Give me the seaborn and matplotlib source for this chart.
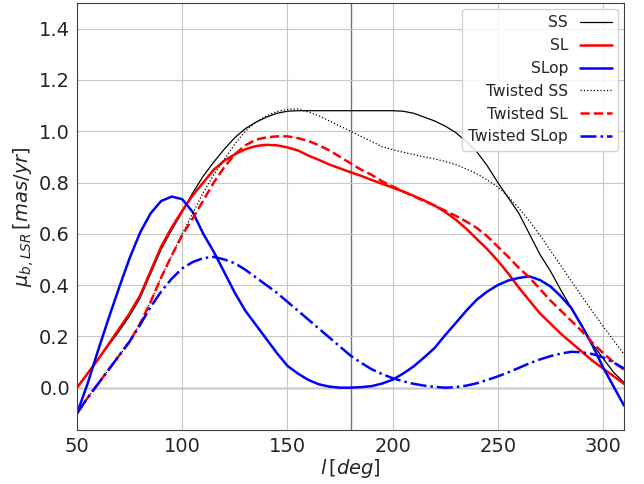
import numpy as np
import pandas as pd
import matplotlib
matplotlib.use("Agg")
import matplotlib.pyplot as plt
import seaborn as sns

# Galactic longitude grid (deg)
l_deg = list(range(50, 315, 5))

ss = [0.0, 0.055, 0.11, 0.165, 0.22, 0.28, 0.35, 0.445, 0.54, 0.615,
      0.685, 0.76, 0.825, 0.88, 0.93, 0.975, 1.01, 1.035, 1.055, 1.07,
      1.078, 1.08, 1.08, 1.08, 1.08, 1.08, 1.08, 1.08, 1.08, 1.08,
      1.08, 1.078, 1.07, 1.055, 1.04, 1.02, 0.995, 0.96, 0.92, 0.865,
      0.80, 0.74, 0.68, 0.60, 0.52, 0.455, 0.38, 0.31, 0.24, 0.17,
      0.115, 0.06, 0.02]

sl = [0.0, 0.055, 0.11, 0.17, 0.23, 0.29, 0.36, 0.455, 0.55, 0.625,
      0.69, 0.75, 0.80, 0.85, 0.885, 0.91, 0.93, 0.942, 0.947, 0.945,
      0.937, 0.925, 0.905, 0.888, 0.87, 0.855, 0.84, 0.826, 0.81, 0.795,
      0.78, 0.765, 0.748, 0.73, 0.71, 0.685, 0.655, 0.62, 0.58, 0.54,
      0.495, 0.445, 0.39, 0.34, 0.29, 0.25, 0.21, 0.175, 0.14, 0.105,
      0.075, 0.045, 0.015]

slop = [-0.1, 0.015, 0.145, 0.27, 0.39, 0.505, 0.605, 0.68, 0.728, 0.745,
        0.735, 0.685, 0.60, 0.53, 0.45, 0.37, 0.30, 0.245, 0.19, 0.135,
        0.085, 0.055, 0.03, 0.013, 0.004, 0.0, 0.0, 0.002, 0.006, 0.016,
        0.031, 0.055, 0.083, 0.118, 0.155, 0.205, 0.252, 0.30, 0.343, 0.375,
        0.40, 0.418, 0.428, 0.434, 0.42, 0.395, 0.356, 0.31, 0.24, 0.165,
        0.08, 0.005, -0.07]

tw_ss = [-0.1, -0.04, 0.015, 0.07, 0.125, 0.18, 0.25, 0.335, 0.43, 0.515,
         0.60, 0.68, 0.76, 0.83, 0.89, 0.95, 1.0, 1.035, 1.06, 1.077,
         1.085, 1.087, 1.075, 1.06, 1.04, 1.02, 1.0, 0.98, 0.96, 0.94,
         0.928, 0.918, 0.909, 0.90, 0.892, 0.882, 0.87, 0.853, 0.834, 0.81,
         0.783, 0.745, 0.70, 0.65, 0.595, 0.535, 0.475, 0.415, 0.356, 0.297,
         0.24, 0.185, 0.13]

tw_sl = [-0.1, -0.04, 0.015, 0.07, 0.125, 0.18, 0.25, 0.335, 0.43, 0.515,
         0.595, 0.66, 0.73, 0.80, 0.86, 0.91, 0.945, 0.967, 0.976, 0.98,
         0.98, 0.973, 0.962, 0.945, 0.925, 0.90, 0.875, 0.85, 0.83, 0.805,
         0.785, 0.765, 0.746, 0.728, 0.71, 0.69, 0.67, 0.648, 0.623, 0.59,
         0.55, 0.51, 0.467, 0.43, 0.385, 0.34, 0.30, 0.26, 0.22, 0.175,
         0.135, 0.10, 0.07]

tw_slop = [-0.1, -0.04, 0.015, 0.07, 0.125, 0.18, 0.245, 0.315, 0.375, 0.425,
           0.465, 0.49, 0.505, 0.51, 0.50, 0.485, 0.46, 0.43, 0.40, 0.37,
           0.335, 0.30, 0.265, 0.23, 0.195, 0.16, 0.125, 0.097, 0.072, 0.053,
           0.037, 0.025, 0.015, 0.008, 0.003, 0.0, 0.002, 0.008, 0.017, 0.03,
           0.044, 0.06, 0.077, 0.095, 0.11, 0.123, 0.133, 0.14, 0.138, 0.131,
           0.118, 0.098, 0.075]

series = [
    ("SS", ss, "black", "-", 0.9),
    ("SL", sl, "red", "-", 1.8),
    ("SLop", slop, "blue", "-", 1.8),
    ("Twisted SS", tw_ss, "black", ":", 0.9),
    ("Twisted SL", tw_sl, "red", "--", 1.8),
    ("Twisted SLop", tw_slop, "blue", "-.", 1.8),
]

sns.set_style("whitegrid", {"axes.edgecolor": "0.25", "grid.color": "0.78",
                            "axes.linewidth": 1.0})
plt.rcParams["font.family"] = ["DejaVu Sans"]

fig = plt.figure(figsize=(6.44, 4.84), dpi=100)
ax = fig.add_axes([0.1196, 0.1116, 0.8494, 0.8822])

for name, vals, col, ls, lw in series:
    sns.lineplot(x=l_deg, y=vals, ax=ax, color=col, linestyle=ls,
                 linewidth=lw, label=name)

ax.axhline(0, color="0.45", linewidth=1.0, zorder=0.5)
ax.axvline(180, color="0.45", linewidth=1.0, zorder=0.5)

ax.set_xlim(50, 310)
ax.set_ylim(-0.165, 1.5)
ax.set_xticks([50, 100, 150, 200, 250, 300])
ax.set_yticks([0.0, 0.2, 0.4, 0.6, 0.8, 1.0, 1.2, 1.4])
ax.set_yticklabels([f"{v:.1f}" for v in [0.0, 0.2, 0.4, 0.6, 0.8, 1.0, 1.2, 1.4]])
ax.tick_params(labelsize=14, colors="0.15", length=0, pad=5)
ax.grid(True, linewidth=0.8)

ax.set_xlabel(r"$l\,[deg]$", fontsize=14, labelpad=1, color="0.15")
ax.set_ylabel(r"$\mu_{b,LSR}\,[mas/yr]$", fontsize=14, labelpad=2, color="0.15")

leg = ax.legend(loc="upper right", markerfirst=False, fontsize=11.2,
                frameon=True, fancybox=True, framealpha=0.85,
                edgecolor="0.8", handlelength=2.0, borderaxespad=0.4,
                labelspacing=0.5)
for t in leg.get_texts():
    t.set_ha("right")

fig.savefig("out.png", dpi=100)
